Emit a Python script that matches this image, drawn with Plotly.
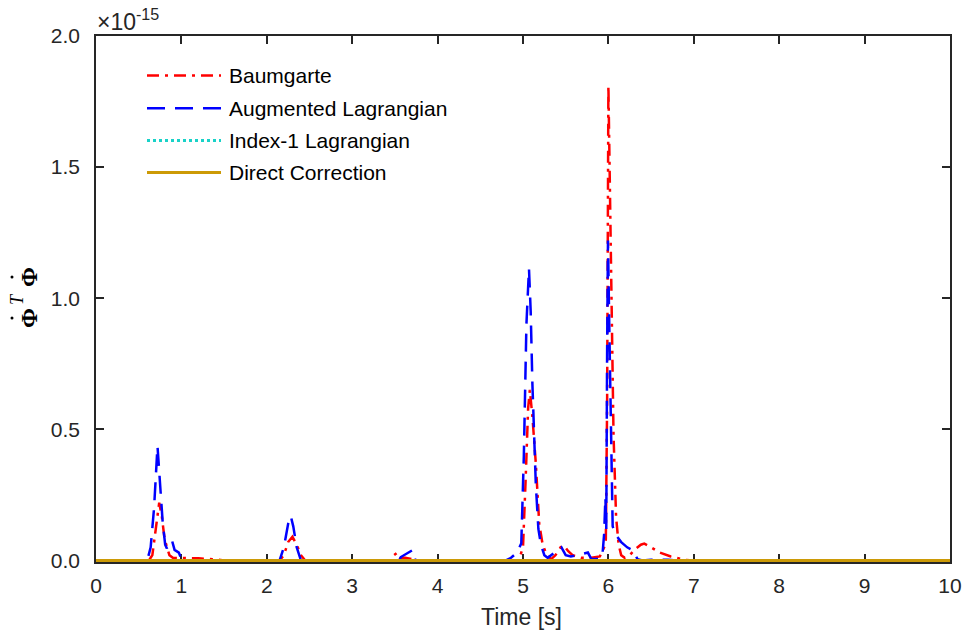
import plotly.graph_objects as go

# ---------------- data (values in units of 1e-15) ----------------
baum_t = [0, 0.62, 0.66, 0.70, 0.74, 0.77, 0.80, 0.83, 0.86, 0.90, 1.0, 1.2, 1.4, 1.5,
          2.15, 2.2, 2.25, 2.30, 2.35, 2.40, 2.45,
          3.45, 3.49, 3.53, 3.57, 3.62, 3.70, 3.75,
          4.95, 5.0, 5.03, 5.06, 5.08, 5.11, 5.15, 5.19, 5.23, 5.28, 5.33, 5.38, 5.44, 5.48,
          5.53, 5.58, 5.68, 5.8, 5.9, 5.95, 5.97, 5.985, 6.0, 6.03, 6.045, 6.06, 6.09, 6.12,
          6.15, 6.19, 6.25, 6.32, 6.38, 6.42, 6.5, 6.6, 6.73, 6.9, 7.0, 10]
baum_v = [0, 0, 0.02, 0.12, 0.22, 0.17, 0.09, 0.05, 0.02, 0.01, 0.01, 0.008, 0.004, 0,
          0, 0.02, 0.07, 0.09, 0.06, 0.02, 0,
          0, 0.02, 0.03, 0.01, 0.01, 0.005, 0,
          0, 0.05, 0.30, 0.58, 0.65, 0.55, 0.37, 0.14, 0.06, 0.02, 0.005, 0.02, 0.05, 0.057,
          0.035, 0.02, 0.01, 0.01, 0.015, 0.05, 0.08, 0.6, 1.81, 1.2, 0.8, 0.48, 0.165, 0.06,
          0.02, 0.01, 0.02, 0.045, 0.06, 0.064, 0.05, 0.03, 0.015, 0.002, 0, 0]

aug_t = [0, 0.6, 0.64, 0.68, 0.72, 0.75, 0.78, 0.81, 0.83, 0.86, 0.89, 0.92, 0.97, 1.0, 1.05,
         2.15, 2.2, 2.25, 2.28, 2.31, 2.35, 2.4,
         3.55, 3.57, 3.64, 3.71, 3.74,
         4.8, 4.86, 4.93, 4.98, 5.01, 5.04, 5.07, 5.09, 5.11, 5.15, 5.18, 5.21, 5.25, 5.29,
         5.37, 5.45, 5.5, 5.56, 5.66, 5.76, 5.8, 5.9, 5.93, 5.95, 5.965, 5.975, 5.985, 5.995,
         6.01, 6.03, 6.05, 6.08, 6.15, 6.22, 6.29, 6.34, 6.4, 6.5, 6.7, 6.8, 10]
aug_v = [0, 0, 0.05, 0.2, 0.436, 0.3, 0.15, 0.06, 0.046, 0.07, 0.076, 0.04, 0.03, 0.005, 0,
         0, 0.05, 0.14, 0.17, 0.13, 0.05, 0,
         0, 0.013, 0.025, 0.04, 0,
         0, 0.01, 0.03, 0.065, 0.4, 0.9, 1.113, 0.95, 0.675, 0.29, 0.12, 0.06, 0.02, 0.01,
         0.03, 0.05, 0.02, 0.015, 0.022, 0.03, 0.005, 0.005, 0.02, 0.1, 0.24, 0.12, 0.8, 1.22,
         0.9, 0.42, 0.13, 0.1, 0.07, 0.05, 0.038, 0.005, 0, 0.003, 0.003, 0, 0]

base_t = [0, 10]
index1_v = [0, 0]
direct_v = [0, 0]

names = ["Baumgarte", "Augmented Lagrangian", "Index-1 Lagrangian", "Direct Correction"]
colors = ["#ff0000", "#0000ff", "#19d2c8", "#cc9a06"]
dashes = ["12px,6px,3px,6px", "18px,10px", "3px,3px", "solid"]
widths = [2.5, 2.5, 3, 3]

x_ticks = list(range(0, 11))
y_ticks = [0.0, 0.5, 1.0, 1.5, 2.0]

# ---------------- figure ----------------
series = [(baum_t, baum_v), (aug_t, aug_v), (base_t, index1_v), (base_t, direct_v)]
fig = go.Figure()
for (t, v), n, c, d, w in zip(series, names, colors, dashes, widths):
    fig.add_trace(go.Scatter(x=t, y=v, mode="lines", name=n,
                             line=dict(color=c, dash=d, width=w), showlegend=False))

W, H = 963, 635
L, R, T, B = 96, 13, 36, 73
pw, ph = W - L - R, H - T - B


def px(xp):
    return (xp - L) / pw


def py(yp):
    return (H - B - yp) / ph


SANS = "Liberation Sans, Arial, sans-serif"
SERIF = "Liberation Serif, Times New Roman, serif"

# manual legend
rows = [75.5, 108.3, 140.5, 172.5]
for yy, n, c, d, w in zip(rows, names, colors, dashes, widths):
    fig.add_shape(type="line", xref="paper", yref="paper",
                  x0=px(147), x1=px(221), y0=py(yy), y1=py(yy),
                  line=dict(color=c, dash=d, width=w))
    fig.add_annotation(xref="paper", yref="paper", x=px(227), y=py(yy),
                       xanchor="left", yanchor="middle", text=n, showarrow=False,
                       font=dict(family=SANS, size=21, color="#000000"))

# exponent label
fig.add_annotation(xref="paper", yref="paper", x=px(95), y=py(20),
                   xanchor="left", yanchor="middle", showarrow=False,
                   text="\u00d710<sup>-15</sup>",
                   font=dict(family=SANS, size=23, color="#262626"))

# y-axis title: Phi-dot ^T Phi-dot, built from rotated pieces
for yy in (277, 318):
    fig.add_annotation(xref="paper", yref="paper", x=px(29), y=py(yy),
                       xanchor="center", yanchor="middle", showarrow=False, textangle=-90,
                       text="<b>\u03a6</b>",
                       font=dict(family=SERIF, size=24, color="#000000"))
    fig.add_shape(type="circle", xref="paper", yref="paper", xsizemode="pixel",
                  ysizemode="pixel", xanchor=px(12), yanchor=py(yy),
                  x0=-1.5, x1=1.5, y0=-1.5, y1=1.5,
                  fillcolor="#000000", line=dict(width=0))
fig.add_annotation(xref="paper", yref="paper", x=px(17), y=py(299),
                   xanchor="center", yanchor="middle", showarrow=False, textangle=-90,
                   text="<i>T</i>",
                   font=dict(family=SERIF, size=18, color="#000000"))

# x-axis title
fig.add_annotation(xref="paper", yref="paper", x=px(521), y=py(617),
                   xanchor="center", yanchor="middle", showarrow=False,
                   text="Time [s]", font=dict(family=SANS, size=23, color="#262626"))

axis_common = dict(showline=True, mirror="ticks", linecolor="#262626", linewidth=1.5,
                   ticks="inside", ticklen=8, tickwidth=1.5, tickcolor="#262626",
                   showgrid=False, zeroline=False, layer="below traces", automargin=False,
                   tickfont=dict(family=SANS, size=21, color="#262626"))

fig.update_xaxes(range=[0, 10], tickvals=x_ticks, ticktext=[str(v) for v in x_ticks],
                 ticklabelstandoff=4, **axis_common)
fig.update_yaxes(range=[-0.006, 2.0], tickvals=y_ticks,
                 ticktext=[f"{v:.1f}" for v in y_ticks], ticklabelstandoff=10,
                 **axis_common)

fig.update_layout(width=W, height=H, margin=dict(l=L, r=R, t=T, b=B, autoexpand=False),
                  plot_bgcolor="white", paper_bgcolor="white", showlegend=False)

fig.write_html("out.html", config={"displayModeBar": False},
               post_script="document.body.style.margin='0px';")
